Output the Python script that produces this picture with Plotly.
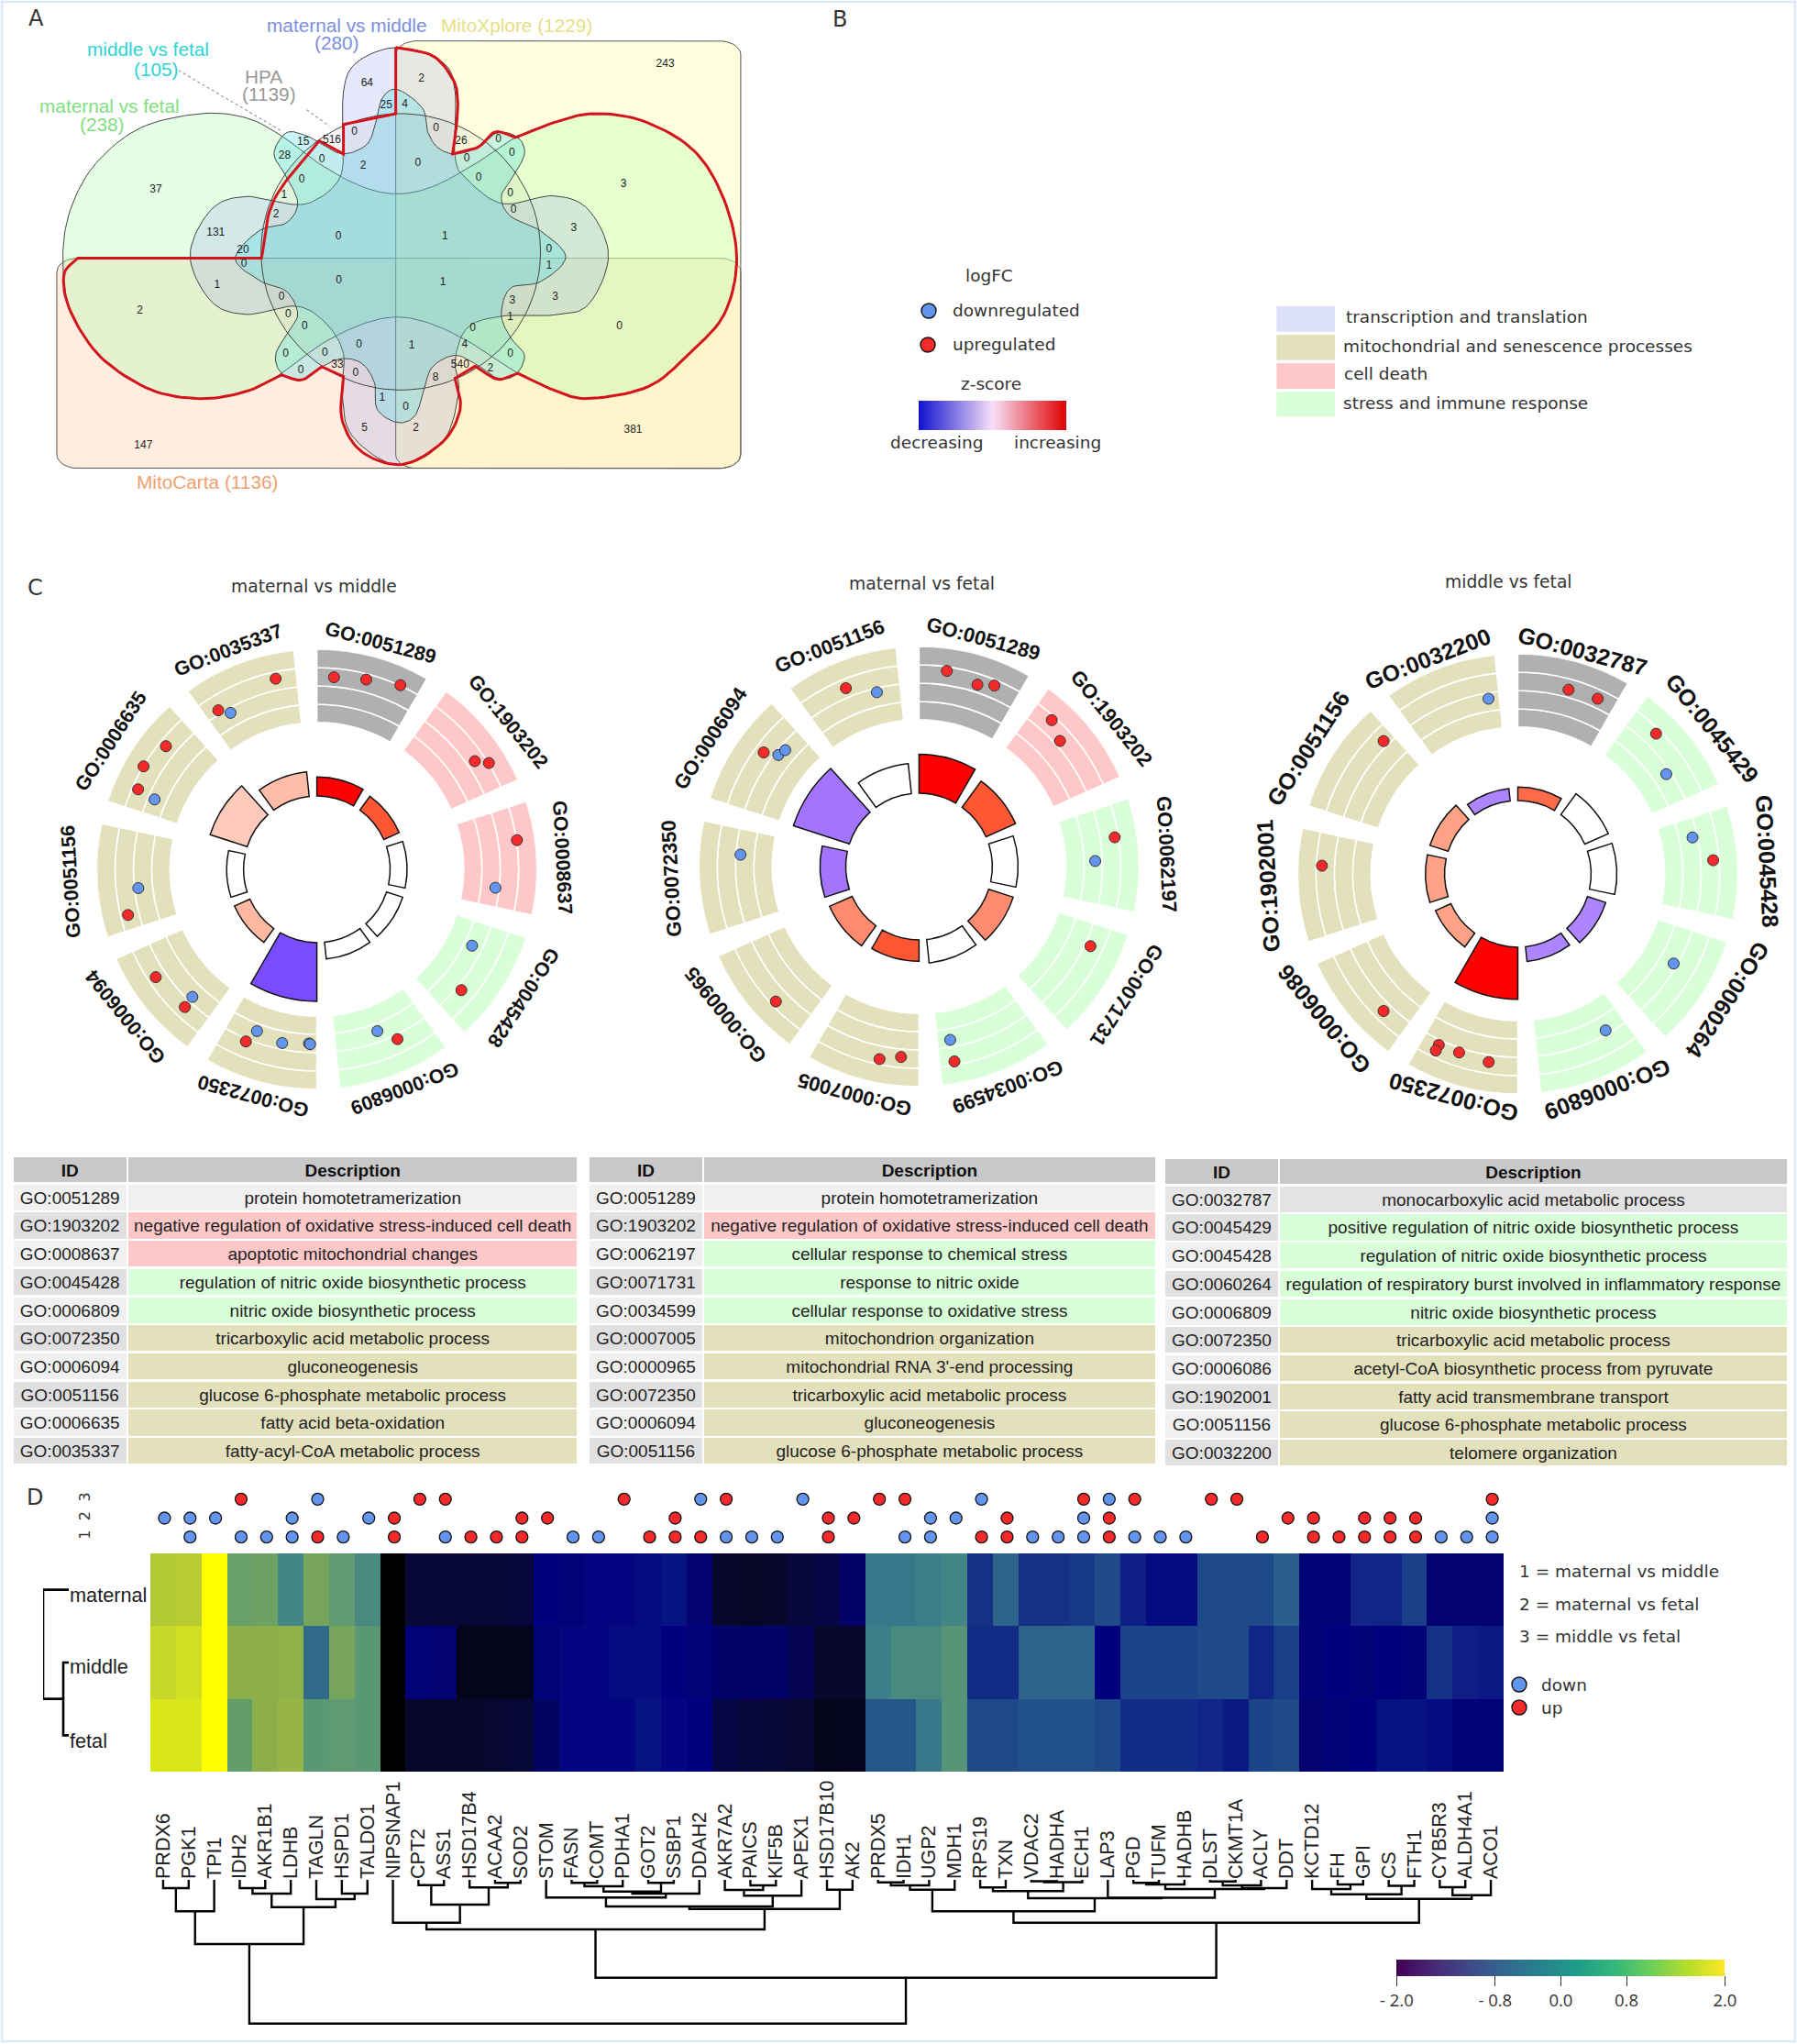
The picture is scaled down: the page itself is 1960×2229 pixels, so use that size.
import numpy as np
import plotly.graph_objects as go

W, H = 1960, 2229
SANS = "Liberation Sans"
DJ = "DejaVu Sans"
GREY, PINK, GREEN, KHAKI = "#b0b0b0", "#ffc8c8", "#d8ffd8", "#e3e0bc"
UPC, DOWNC = "#f42a2a", "#6495ed"

# ---------- panel C / tables ----------
ids_1 = ["GO:0051289", "GO:1903202", "GO:0008637", "GO:0045428", "GO:0006809", "GO:0072350", "GO:0006094", "GO:0051156", "GO:0006635", "GO:0035337"]
desc_1 = ["protein homotetramerization", "negative regulation of oxidative stress-induced cell death", "apoptotic mitochondrial changes",
          "regulation of nitric oxide biosynthetic process", "nitric oxide biosynthetic process", "tricarboxylic acid metabolic process",
          "gluconeogenesis", "glucose 6-phosphate metabolic process", "fatty acid beta-oxidation", "fatty-acyl-CoA metabolic process"]
ids_2 = ["GO:0051289", "GO:1903202", "GO:0062197", "GO:0071731", "GO:0034599", "GO:0007005", "GO:0000965", "GO:0072350", "GO:0006094", "GO:0051156"]
desc_2 = ["protein homotetramerization", "negative regulation of oxidative stress-induced cell death", "cellular response to chemical stress",
          "response to nitric oxide", "cellular response to oxidative stress", "mitochondrion organization",
          "mitochondrial RNA 3'-end processing", "tricarboxylic acid metabolic process", "gluconeogenesis", "glucose 6-phosphate metabolic process"]
ids_3 = ["GO:0032787", "GO:0045429", "GO:0045428", "GO:0060264", "GO:0006809", "GO:0072350", "GO:0006086", "GO:1902001", "GO:0051156", "GO:0032200"]
desc_3 = ["monocarboxylic acid metabolic process", "positive regulation of nitric oxide biosynthetic process", "regulation of nitric oxide biosynthetic process",
          "regulation of respiratory burst involved in inflammatory response", "nitric oxide biosynthetic process", "tricarboxylic acid metabolic process",
          "acetyl-CoA biosynthetic process from pyruvate", "fatty acid transmembrane transport", "glucose 6-phosphate metabolic process", "telomere organization"]
class_1 = [GREY, PINK, PINK, GREEN, GREEN, KHAKI, KHAKI, KHAKI, KHAKI, KHAKI]
class_2 = [GREY, PINK, GREEN, GREEN, GREEN, KHAKI, KHAKI, KHAKI, KHAKI, KHAKI]
class_3 = [GREY, GREEN, GREEN, GREEN, GREEN, KHAKI, KHAKI, KHAKI, KHAKI, KHAKI]

bar_r_1 = [0.42, 0.41, 0.41, 0.41, 0.41, 0.60, 0.41, 0.41, 0.51, 0.445]
bar_c_1 = ["#ff0000", "#ff5733", "#ffffff", "#ffffff", "#ffffff", "#7b4bff", "#ffb9a3", "#ffffff", "#ffc9bb", "#ffbca8"]
bar_r_2 = [0.51, 0.48, 0.45, 0.45, 0.44, 0.43, 0.445, 0.45, 0.60, 0.47]
bar_c_2 = ["#ff0000", "#ff5733", "#ffffff", "#ff8c70", "#ffffff", "#ff5733", "#ff8a6d", "#a375ff", "#a375ff", "#ffffff"]
bar_r_3 = [0.395, 0.45, 0.45, 0.42, 0.40, 0.57, 0.41, 0.42, 0.42, 0.39]
bar_c_3 = ["#ff6a4a", "#ffffff", "#ffffff", "#ac85ff", "#ac85ff", "#ff0000", "#ffa285", "#ffa285", "#ffa285", "#ac85ff"]

pt_theta_1 = [5.1, 14.6, 24.4, 55.6, 58.3, 81.7, 95.9, 116.2, 129.9, 159.5, 154.6, 200.3, 202.4, 191.3, 182.6, 182.2, 236.2, 224.3, 223.8, 264.0, 256.4, 309.2, 300.7, 294.1, 293.3, 347.8, 328.2, 331.1]
pt_r_1 = [.876, .891, .919, .870, .919, .919, .816, .786, .856, .785, .854, .784, .846, .805, .792, .795, .881, .810, .867, .816, .883, .885, .916, .890, .803, .886, .850, .812]
pt_up_1 = [1, 1, 1, 1, 1, 1, 0, 0, 1, 0, 1, 0, 1, 0, 0, 0, 1, 0, 1, 0, 1, 1, 1, 1, 0, 1, 1, 0]
pt_theta_2 = [8.1, 17.8, 22.6, 42.2, 48.3, 81.5, 88.2, 114.9, 169.8, 169.7, 191.6, 185.4, 226.7, 273.8, 306.3, 308.4, 311.0, 337.7, 346.4]
pt_r_2 = [.898, .868, .891, .898, .858, .899, .801, .859, .800, .900, .893, .869, .894, .813, .876, .816, .806, .876, .815]
pt_up_2 = [1, 1, 1, 1, 1, 1, 0, 1, 0, 1, 1, 1, 1, 0, 1, 0, 0, 1, 0]
pt_theta_3 = [15.4, 24.5, 44.6, 56.1, 78.2, 86.0, 119.9, 150.7, 204.8, 204.9, 198.2, 188.8, 224.4, 272.4, 314.7, 350.5]
pt_r_3 = [.868, .875, .895, .813, .811, .890, .817, .815, .856, .885, .854, .865, .872, .891, .858, .807]
pt_up_3 = [1, 1, 1, 0, 0, 1, 0, 0, 1, 1, 1, 1, 1, 1, 1, 0]

# ---------- panel D ----------
genes = ["PRDX6", "PGK1", "TPI1", "IDH2", "AKR1B1", "LDHB", "TAGLN", "HSPD1", "TALDO1", "NIPSNAP1", "CPT2", "ASS1", "HSD17B4", "ACAA2", "SOD2",
         "STOM", "FASN", "COMT", "PDHA1", "GOT2", "SSBP1", "DDAH2", "AKR7A2", "PAICS", "KIF5B", "APEX1", "HSD17B10", "AK2", "PRDX5", "IDH1", "UGP2",
         "MDH1", "RPS19", "TXN", "VDAC2", "HADHA", "ECH1", "LAP3", "PGD", "TUFM", "HADHB", "DLST", "CKMT1A", "ACLY", "DDT", "KCTD12", "FH", "GPI",
         "CS", "FTH1", "CYB5R3", "ALDH4A1", "ACO1"]
samples = ["maternal", "middle", "fetal"]
z_maternal = [1.2, 1.25, 2.0, .5, .55, .1, .65, .4, .15, -2.0, -1.5, -1.5, -1.5, -1.5, -1.45, -1.0, -1.05, -.95, -.95, -.9, -.85, -1.1, -1.6, -1.65, -1.6, -1.45, -1.4, -1.15,
              -.05, -.05, 0.0, .1, -.6, -.2, -.6, -.6, -.55, -.4, -.75, -.9, -.9, -.4, -.4, -.4, -.25, -1.05, -1.05, -.7, -.7, -.5, -1.1, -1.1, -1.1]
z_middle = [1.4, 1.5, 2.0, .85, .85, .9, -.15, .65, .35, -2.0, -1.05, -1.1, -1.75, -1.75, -1.75, -1.05, -.95, -.95, -.9, -.9, -1.0, -1.05, -1.15, -1.15, -1.15, -1.3, -1.6, -1.6,
            0.0, .15, .15, .3, -.65, -.65, -.2, -.2, -.2, -1.0, -.45, -.45, -.45, -.4, -.4, -.7, -.5, -1.05, -1.0, -1.05, -1.0, -1.05, -.6, -.75, -.8]
z_fetal = [1.6, 1.6, 2.0, .45, .85, .95, .35, .4, .35, -2.0, -1.6, -1.6, -1.6, -1.55, -1.5, -1.2, -.95, -.95, -.95, -.85, -.95, -1.0, -1.4, -1.45, -1.5, -1.55, -1.75, -1.7,
           -.3, -.3, -.05, .3, -.4, -.4, -.35, -.35, -.35, -.4, -.65, -.65, -.65, -.7, -.8, -.45, -.4, -1.1, -1.05, -1.0, -.85, -.85, -.9, -1.05, -1.05]
heat_scale = [[0, "#000000"], [.12, "#080834"], [.25, "#00007f"], [.4, "#1f4a8a"], [.5, "#3a7f8a"], [.6, "#5f9a70"], [.72, "#8fb04a"], [.85, "#c8d828"], [1, "#ffff00"]]

row1_up = [6, 9, 12, 13, 14, 19, 20, 21, 26, 32, 33, 37, 43, 45, 46, 47, 48, 49]
row1_down = [1, 3, 4, 5, 7, 11, 16, 17, 22, 23, 24, 29, 30, 34, 35, 36, 38, 39, 40, 50, 51, 52]
row2_up = [9, 14, 15, 20, 26, 27, 33, 37, 44, 45, 47, 48, 49]
row2_down = [0, 1, 2, 5, 8, 30, 31, 36, 52]
row3_up = [3, 10, 11, 18, 22, 28, 29, 36, 38, 41, 42, 52]
row3_down = [6, 21, 25, 32, 37]

# dendrogram: (height, left, right); an int is a leaf column
tree_a = (70, (34.3, (9, 0, 1), 2), (29.7, (15, (9, 3, 4), 5), (21, 6, (15, 7, 8))))
tree_b = (54, (46.7, 9, (27, (5.7, 10, 11), (8.3, 12, (3.3, 13, 14)))),
          (31.7, (29, (19.3, 15, (15, (12.7, (7, (3.3, 16, 17), 18), (3.3, 19, 20)), 21)),
                  (17.3, (11, 22, (6, 23, 24)), 25)), (10.7, 26, 27)))
tree_c = (46.7, (34.3, (10.7, (6, (2.7, 28, 29), 30), 31),
                 (20, (12.3, (8.3, 32, 33), (2.5, (1.5, 34, 35), 36)),
                  (19.5, 37, (10, (5, (3.3, 38, 39), 40), (9, (6, (1.7, 41, 42), 43), 44))))),
          (20.7, (15.7, (10, 45, (5, 46, 47)), (6.5, 48, 49)), (16.7, (8, 50, 51), 52)))
gene_tree = (156.7, tree_a, (106.7, tree_b, tree_c))
sample_tree = (28, 0, (6, 1, 2))
cbar_ticks = [-2.0, -0.8, 0.0, 0.8, 2.0]
cbar_text = ["- 2.0", "- 0.8", "0.0", "0.8", "2.0"]

# ---------- panel A ----------
venn_text = ["64", "2", "243", "25", "4", "15", "516", "0", "0", "26", "0", "28", "0", "2", "0", "0", "0", "37", "0", "0", "3", "1", "0", "2", "0", "3", "131", "0", "1", "20", "0", "0", "1", "1", "0", "1", "2", "0", "3", "3", "0", "1", "0", "0", "0", "0", "1", "4", "0", "0", "0", "33", "540", "2", "0", "0", "8", "1", "0", "5", "2", "381", "147"]
venn_x = [730, 838, 1323, 768, 805, 603, 660, 705, 867, 917, 991, 566, 640, 722, 831, 928, 1018, 310, 600, 952, 1240, 565, 1015, 549, 1021, 1141, 429, 673, 885, 483, 1092, 485, 1092, 432, 674, 881, 278, 560, 1019, 1104, 573, 1015, 1232, 606, 940, 714, 819, 924, 568, 646, 1015, 671, 915, 975, 598, 707, 866, 760, 807, 725, 827, 1259, 285]
venn_y = [255, 240, 195, 323, 318, 435, 428, 402, 393, 432, 426, 475, 487, 508, 498, 483, 467, 580, 549, 544, 562, 595, 592, 656, 640, 696, 712, 722, 722, 764, 762, 806, 811, 872, 856, 862, 948, 907, 917, 906, 960, 970, 997, 998, 1002, 1052, 1055, 1052, 1082, 1077, 1081, 1113, 1115, 1126, 1132, 1139, 1153, 1214, 1244, 1307, 1307, 1312, 1361]


def smooth(pts, closed=False, n=10):
    p = np.array(pts, float)
    if closed:
        p = np.vstack([p[-1], p, p[0], p[1]])
    else:
        p = np.vstack([2 * p[0] - p[1], p, 2 * p[-1] - p[-2]])
    out = []
    for i in range(1, len(p) - 2):
        for t in np.linspace(0, 1, n, endpoint=False):
            a, b, c, d = p[i - 1], p[i], p[i + 1], p[i + 2]
            out.append(.5 * (2 * b + (c - a) * t + (2 * a - 5 * b + 4 * c - d) * t ** 2 + (3 * b - a - 3 * c + d) * t ** 3))
    if not closed:
        out.append(p[-2])
    else:
        out.append(out[0])
    return np.array(out)


def rrect(x0, y0, x1, y1, rx, ry):
    t = np.linspace(0, np.pi / 2, 10)
    xs, ys = [], []
    for cx, cy, a in [(x0 + rx, y0 + ry, np.pi), (x1 - rx, y0 + ry, 1.5 * np.pi), (x1 - rx, y1 - ry, 0), (x0 + rx, y1 - ry, .5 * np.pi)]:
        xs += list(cx + rx * np.cos(a + t))
        ys += list(cy + ry * np.sin(a + t))
    return xs + xs[:1], ys + ys[:1]


def dom_x(a, b):
    return [a / W, b / W]


def dom_y(top, bottom):
    return [1 - bottom / H, 1 - top / H]


anns = []


def txt(px, py, s, size=18.5, color="#333333", font=DJ, anchor="center", angle=0):
    anns.append(dict(x=px / W, y=1 - py / H, xref="paper", yref="paper", text=s, showarrow=False, xanchor=anchor, yanchor="middle",
                     textangle=angle, font=dict(size=size, color=color, family=font)))


def vtxt(zx, zy, s, color, size=20.8):
    anns.append(dict(x=zx, y=zy, xref="x", yref="y", text=s, showarrow=False, xanchor="center", yanchor="middle",
                     font=dict(size=size, color=color, family=SANS)))


fig = go.Figure()
hidden = dict(visible=False, showgrid=False, zeroline=False, fixedrange=True)

# ----- Venn -----
VA = dict(xaxis="x", yaxis="y", hoverinfo="skip", mode="lines")
x, y = rrect(113, 788, 1473, 1430, 42, 42)
fig.add_trace(go.Scatter(x=x, y=y, fill="toself", fillcolor="rgba(255,200,160,.32)", line=dict(color="#555", width=1), **VA))
x, y = rrect(787, 125, 1473, 1430, 42, 42)
fig.add_trace(go.Scatter(x=x, y=y, fill="toself", fillcolor="rgba(255,255,170,.38)", line=dict(color="#555", width=1), **VA))
green_blob = [(560, 415), (640, 505), (720, 570), (790, 592), (860, 570), (940, 505), (1025, 420), (1100, 375), (1180, 347), (1280, 370), (1380, 460), (1440, 610), (1465, 790), (1440, 960), (1370, 1080), (1290, 1180), (1170, 1217), (1100, 1190), (1030, 1140), (940, 1050), (860, 990), (790, 968), (720, 990), (640, 1050), (560, 1140), (490, 1195), (400, 1217), (300, 1190), (200, 1090), (140, 950), (125, 790), (140, 640), (190, 500), (280, 390), (400, 347), (490, 360)]
lav_blob = [(683, 280), (683, 470), (675, 545), (640, 600), (590, 625), (490, 600), (420, 640), (378, 780), (420, 920), (490, 960), (590, 935), (650, 990), (683, 1080), (680, 1200), (700, 1330), (790, 1420), (880, 1350), (912, 1200), (905, 1100), (930, 1000), (1000, 965), (1100, 962), (1170, 930), (1210, 780), (1170, 640), (1100, 598), (1000, 622), (930, 550), (905, 480), (905, 280), (880, 190), (790, 145), (710, 190)]
teal_blob = [(790, 273), (840, 330), (850, 400), (870, 450), (905, 470), (950, 450), (990, 405), (1030, 420), (1043, 470), (1020, 540), (997, 600), (1015, 660), (1075, 705), (1125, 785), (1075, 860), (1015, 880), (997, 960), (1015, 1030), (1043, 1085), (1025, 1145), (990, 1155), (950, 1115), (905, 1085), (860, 1120), (843, 1190), (825, 1270), (790, 1290), (750, 1250), (745, 1170), (720, 1110), (680, 1095), (640, 1120), (600, 1160), (560, 1140), (548, 1085), (570, 1020), (592, 960), (570, 890), (520, 860), (468, 790), (515, 705), (570, 680), (592, 620), (570, 540), (545, 470), (570, 405), (610, 415), (640, 440), (683, 470), (730, 440), (748, 370), (760, 300)]
for blob, col in [(green_blob, "rgba(170,255,170,.30)"), (lav_blob, "rgba(150,165,240,.24)"), (teal_blob, "rgba(60,220,230,.28)")]:
    c = smooth(blob, closed=True)
    fig.add_trace(go.Scatter(x=c[:, 0], y=c[:, 1], fill="toself", fillcolor=col, line=dict(color="#444", width=1), **VA))
t = np.linspace(0, 2 * np.pi, 120)
fig.add_trace(go.Scatter(x=797 + 278 * np.cos(t), y=769 + 422 * np.sin(t), fill="toself", fillcolor="rgba(130,130,130,.07)", line=dict(color="#444", width=1), **VA))
red_parts = [[(787, 145), (860, 170), (900, 240), (910, 300), (908, 380), (900, 470)],
             [(900, 470), (950, 450), (985, 403), (1025, 420)],
             [(1025, 420), (1100, 375), (1180, 347), (1280, 370), (1380, 460), (1440, 610), (1465, 790), (1440, 960), (1370, 1080), (1290, 1180), (1170, 1217), (1100, 1190), (1030, 1140)],
             [(1030, 1140), (990, 1158), (945, 1118)], [(945, 1118), (905, 1155)],
             [(905, 1155), (915, 1250), (880, 1350), (800, 1418), (720, 1380), (680, 1280), (683, 1150)],
             [(683, 1150), (640, 1120)], [(640, 1120), (600, 1160), (560, 1145)],
             [(560, 1145), (490, 1195), (400, 1217), (300, 1190), (200, 1090), (140, 950), (127, 840), (155, 788)],
             [(155, 788), (520, 788)], [(520, 788), (545, 610), (635, 430)], [(635, 430), (683, 470)], [(683, 470), (683, 380)],
             [(683, 380), (787, 347)], [(787, 347), (787, 145)]]
red = np.vstack([smooth(p) for p in red_parts])
fig.add_trace(go.Scatter(x=red[:, 0], y=red[:, 1], line=dict(color="#d3141c", width=3), **VA))
for seg in [((355, 215), (560, 400)), ((610, 335), (655, 385))]:
    fig.add_trace(go.Scatter(x=[seg[0][0], seg[1][0]], y=[seg[0][1], seg[1][1]], line=dict(color="#999", width=1.2, dash="dot"), **VA))
fig.add_trace(go.Scatter(x=venn_x, y=venn_y, text=venn_text, mode="text", textfont=dict(size=12, family=SANS, color="#222"), xaxis="x", yaxis="y", hoverinfo="skip"))
vtxt(690, 78, "maternal vs middle", "#7a8fe0")
vtxt(670, 130, "(280)", "#7a8fe0")
vtxt(1028, 78, "MitoXplore (1229)", "#e6df84")
vtxt(295, 150, "middle vs fetal", "#2fd4d4")
vtxt(310, 210, "(105)", "#2fd4d4")
vtxt(525, 235, "HPA", "#999999")
vtxt(536, 287, "(1139)", "#999999")
vtxt(218, 323, "maternal vs fetal", "#80e080")
vtxt(204, 378, "(238)", "#80e080")
vtxt(413, 1472, "MitoCarta (1136)", "#f0a070")

# ----- panel labels -----
txt(39, 20, "A", 24)
txt(916, 21, "B", 24)
txt(38, 641, "C", 24)
txt(38, 1633, "D", 24)

# ----- panel B legend -----
txt(1078.5, 300, "logFC")
txt(1036.5, 338, "downregulated", anchor="left")
txt(1036.5, 375, "upregulated", anchor="left")
txt(1081, 419, "z-score")
txt(1021.5, 483, "decreasing")
txt(1153.6, 483, "increasing")
legend_rows = [("transcription and translation", "#dce0fb", 334, 361.7, 346, 1466), ("mitochondrial and senescence processes", KHAKI, 365, 392.7, 378, 1463),
               ("cell death", PINK, 396, 424, 408, 1464), ("stress and immune response", GREEN, 427.3, 454.3, 440, 1463)]
shapes = [dict(type="rect", xref="paper", yref="paper", x0=2 / W, x1=1958 / W, y0=1 - 2226 / H, y1=1 - 2 / H, line=dict(color="#dfe5fb", width=2.5), layer="above")]
for name, col, y0, y1, ty, tx in legend_rows:
    shapes.append(dict(type="rect", xref="paper", yref="paper", x0=1392.4 / W, x1=1456 / W, y0=1 - y1 / H, y1=1 - y0 / H, fillcolor=col, line=dict(width=0)))
    txt(tx, ty, name, anchor="left")
# page-wide pixel axis for legend keys
fig.add_trace(go.Scatter(x=[1013, 1657], y=[339, 1837], mode="markers", marker=dict(size=16, color=DOWNC, line=dict(color="#111", width=1.4)), xaxis="x6", yaxis="y6", hoverinfo="skip"))
fig.add_trace(go.Scatter(x=[1012, 1657], y=[376, 1862], mode="markers", marker=dict(size=16, color=UPC, line=dict(color="#111", width=1.4)), xaxis="x6", yaxis="y6", hoverinfo="skip"))
# z-score key: native colorbar of an invisible trace
fig.add_trace(go.Scatter(x=[0, 0], y=[0, 0], mode="markers", xaxis="x2", yaxis="y2", hoverinfo="skip", showlegend=False,
                         marker=dict(opacity=0, color=[-1, 1], cmin=-1, cmax=1, colorscale=[[0, "#1010d0"], [.5, "#f8e0f8"], [1, "#e00000"]],
                                     colorbar=dict(orientation="h", x=1001.5 / W, xanchor="left", y=1 - 437 / H, yanchor="top", ypad=0, xpad=0, thickness=32, len=161,
                                                   lenmode="pixels", thicknessmode="pixels", showticklabels=False, ticks="", outlinewidth=0))))

# ----- circular plots -----
plots = [(345.6, 948, 244, 232.5, ids_1, class_1, bar_r_1, bar_c_1, pt_theta_1, pt_r_1, pt_up_1, "polar", 21.5),
         (1002.4, 945, 246, 234, ids_2, class_2, bar_r_2, bar_c_2, pt_theta_2, pt_r_2, pt_up_2, "polar2", 22),
         (1655.5, 953, 248, 229, ids_3, class_3, bar_r_3, bar_c_3, pt_theta_3, pt_r_3, pt_up_3, "polar3", 25)]
R = 240
polar_layout = {}
for cx, cy, rx, ry, gid, cls, br, bc, pth, pr, pup, sub, fs in plots:
    polar_layout[sub] = dict(domain=dict(x=dom_x(cx - R, cx + R), y=dom_y(cy - R, cy + R)), barmode="overlay", bgcolor="rgba(0,0,0,0)",
                             angularaxis=dict(visible=False, direction="clockwise", rotation=90),
                             radialaxis=dict(visible=False, range=[0, 1]))
    centers = [15 + 36 * i for i in range(10)]
    for k in range(4):
        fig.add_trace(go.Barpolar(theta=centers, width=[30] * 10, base=[.667 + k * .0833] * 10, r=[.0833] * 10, subplot=sub, hoverinfo="skip",
                                  marker=dict(color=cls, line=dict(color="#ffffff", width=1.6))))
    fig.add_trace(go.Barpolar(theta=centers, width=[30] * 10, base=[.333] * 10, r=[v - .333 for v in br], subplot=sub, hoverinfo="skip",
                              marker=dict(color=bc, line=dict(color="#111111", width=1.5))))
    fig.add_trace(go.Scatterpolar(theta=pth, r=pr, mode="markers", subplot=sub, hoverinfo="skip",
                                  marker=dict(size=12, color=[UPC if u else DOWNC for u in pup], line=dict(color="#333", width=1))))
    for i, g in enumerate(gid):
        a = np.radians(centers[i])
        txt(cx + 1.10 * rx * np.sin(a), cy - 1.10 * ry * np.cos(a), g, fs, "#111111", SANS, angle=centers[i])
        anns[-1]["font"]["weight"] = 700

txt(342, 640, "maternal vs middle", 18.7)
txt(1005.7, 636, "maternal vs fetal", 18.7)
txt(1645.7, 634, "middle vs fetal", 18.7)

# ----- tables -----
NB = "\u00a0"
tables = [(13.5, 631, 139, 1261, ids_1, desc_1, class_1), (642, 1262, 767, 1261, ids_2, desc_2, class_2), (1270, 1950.6, 1395, 1263, ids_3, desc_3, class_3)]
for ti, (x0, x1, xm, top, tid, tdesc, tcls) in enumerate(tables):
    first = "#e3e3e3" if ti == 2 else "#f0f0f0"
    dcol = [first if c == GREY else c for c in tcls]
    icol = ["#f0f0f0" if i % 2 == 0 else "#e0e0e0" for i in range(10)]
    if ti == 2:
        icol[0] = "#e6e6e6"
    fig.add_trace(go.Table(domain=dict(x=dom_x(x0, x1), y=dom_y(top, top + 345)), columnwidth=[xm - x0, x1 - xm],
                           header=dict(values=["ID", "Description"], fill_color="#c8c8c8", height=29.5, align="center",
                                       line=dict(color="#ffffff", width=2.5), font=dict(size=19, family=SANS, color="#111", weight=700)),
                           cells=dict(values=[tid, [s.replace(" ", NB) for s in tdesc]], fill_color=[icol, dcol], height=30.7, align="center",
                                      line=dict(color="#ffffff", width=2.5), font=dict(size=19, family=SANS, color="#222"))))

# ----- heatmap -----
fig.add_trace(go.Heatmap(z=[z_maternal, z_middle, z_fetal], x=list(range(len(genes))), y=[0, 1, 2], zmin=-2, zmax=2, colorscale=heat_scale, showscale=False,
                         xaxis="x2", yaxis="y2", hoverinfo="skip"))
for rown, up, down in [(1, row1_up, row1_down), (2, row2_up, row2_down), (3, row3_up, row3_down)]:
    for idx, col in [(up, UPC), (down, DOWNC)]:
        fig.add_trace(go.Scatter(x=idx, y=[rown] * len(idx), mode="markers", xaxis="x3", yaxis="y3", hoverinfo="skip",
                                 marker=dict(size=13, color=col, line=dict(color="#111", width=1.3))))


def tree_lines(node, xs, hs):
    if isinstance(node, int):
        return float(node), 0.0
    h, l, r = node
    lx, lh = tree_lines(l, xs, hs)
    rx, rh = tree_lines(r, xs, hs)
    xs += [lx, lx, rx, rx, None]
    hs += [lh, h, h, rh, None]
    return (lx + rx) / 2, h


gx, gh = [], []
tree_lines(gene_tree, gx, gh)
fig.add_trace(go.Scatter(x=gx, y=gh, mode="lines", line=dict(color="#000", width=2.4), xaxis="x4", yaxis="y4", hoverinfo="skip"))
sx, sh = [], []
tree_lines(sample_tree, sx, sh)
fig.add_trace(go.Scatter(x=sh, y=sx, mode="lines", line=dict(color="#000", width=2.6), xaxis="x5", yaxis="y2", hoverinfo="skip"))
for s, py in zip(samples, [1739, 1817, 1898]):
    txt(74, py, s, 21.7, "#222222", SANS, anchor="left")
txt(1655, 1713, "1 = maternal vs middle", anchor="left")
txt(1655, 1749, "2 = maternal vs fetal", anchor="left")
txt(1655, 1784, "3 = middle vs fetal", anchor="left")
txt(1679, 1838, "down", anchor="left")
txt(1679, 1862, "up", anchor="left")

# viridis colour key
fig.add_trace(go.Scatter(x=[0, 0], y=[0, 0], mode="markers", xaxis="x2", yaxis="y2", hoverinfo="skip",
                         marker=dict(opacity=0, color=[-2, 2], cmin=-2, cmax=2, colorscale="Viridis",
                                     colorbar=dict(orientation="h", x=1523.4 / W, xanchor="left", y=1 - 2137 / H, yanchor="top", ypad=0, xpad=0, thickness=18, len=358,
                                                   lenmode="pixels", thicknessmode="pixels", tickmode="array", tickvals=cbar_ticks, ticktext=cbar_text, ticks="outside",
                                                   ticklen=11, tickcolor="#333", tickwidth=1.3, tickfont=dict(size=18.5, family="Open Sans", color="#333"), outlinewidth=0))))

XR = [-0.5, len(genes) - 0.5]
fig.update_layout(
    width=W, height=H, margin=dict(l=0, r=0, t=0, b=0, pad=0), paper_bgcolor="white", plot_bgcolor="rgba(0,0,0,0)", showlegend=False,
    annotations=anns, shapes=shapes, **polar_layout,
    xaxis=dict(domain=dom_x(0, 860), range=[0, 1568], anchor="y", **hidden),
    yaxis=dict(domain=dom_y(0, 560), range=[1568, 0], anchor="x", **hidden),
    xaxis2=dict(domain=dom_x(164, 1640), range=XR, anchor="y2", **hidden),
    yaxis2=dict(domain=dom_y(1694, 1932), range=[2.5, -0.5], anchor="x2", **hidden),
    xaxis3=dict(domain=dom_x(165.5, 1641.5), range=XR, anchor="y3", **hidden),
    yaxis3=dict(domain=dom_y(1624.5, 1686.5), range=[0.5, 3.5], anchor="free", position=101 / W, side="left", showgrid=False, zeroline=False, showline=False,
                tickmode="array", tickvals=[1, 2, 3], ticktext=["1", "2", "3"], tickangle=-90, ticks="", tickfont=dict(size=16, family=DJ, color="#333")),
    xaxis4=dict(domain=dom_x(164, 1640), range=XR, anchor="y4", side="top", showgrid=False, zeroline=False, showline=False, ticks="", tickmode="array",
                tickvals=list(range(len(genes))), ticktext=genes, tickangle=-90, tickfont=dict(size=21.5, family=SANS, color="#222")),
    yaxis4=dict(domain=dom_y(2050, 2210), range=[160, 0], anchor="x4", **hidden),
    xaxis5=dict(domain=dom_x(47, 75), range=[28, 0], anchor="y2", **hidden),
    xaxis6=dict(domain=[0, 1], range=[0, W], anchor="y6", **hidden),
    yaxis6=dict(domain=[0, 1], range=[H, 0], anchor="x6", **hidden),
)
fig.write_html("out.html", config={"displayModeBar": False},
               post_script="document.body.style.margin='0';document.body.style.overflow='hidden';window.dispatchEvent(new Event('resize'));")
